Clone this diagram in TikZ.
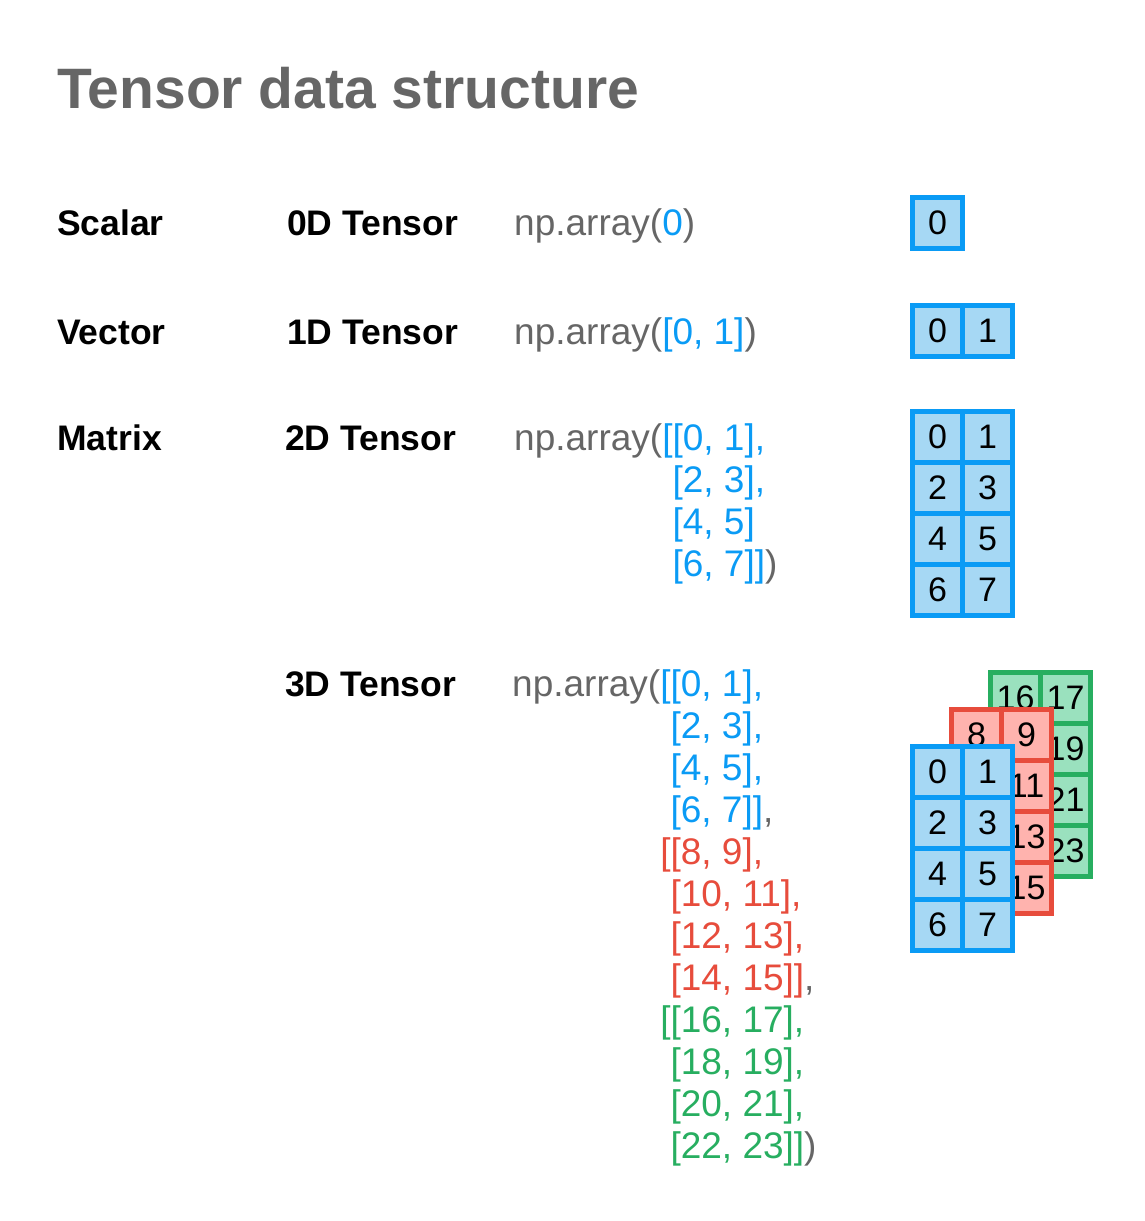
\documentclass[tikz,border=0pt]{standalone}
\usepackage{fontspec}
\setmainfont{Liberation Sans}
\usepackage{tikz}
\usetikzlibrary{positioning}
\usepackage{xcolor}
\definecolor{textgray}{HTML}{666666}
\definecolor{npblue}{HTML}{0A9BF5}
\definecolor{npred}{HTML}{E74C3C}
\definecolor{npgreen}{HTML}{27AE60}
\definecolor{bluefill}{HTML}{A6D8F4}
\definecolor{redfill}{HTML}{FFB3AE}
\definecolor{greenfill}{HTML}{9AE1BE}
\newcommand{\indentin}{\hphantom{np.array([}}
\newcommand{\indentout}{\hphantom{np.array(}}
\tikzset{
  heading/.style={anchor=base west, inner sep=0pt, text=textgray, font=\fontsize{57}{62}\selectfont\bfseries},
  rowlabel/.style={anchor=base west, inner sep=0pt, font=\fontsize{35.5}{42}\selectfont\bfseries},
  code/.style={anchor=base west, inner sep=0pt, text=textgray, font=\fontsize{37}{42}\selectfont},
  cell/.style={draw, line width=5pt, minimum width=50pt, minimum height=51pt, inner sep=0pt, outer sep=0pt, font=\fontsize{34}{40}\selectfont},
  bluecell/.style={cell, draw=npblue, fill=bluefill},
  redcell/.style={cell, draw=npred, fill=redfill},
  greencell/.style={cell, draw=npgreen, fill=greenfill}
}

\begin{document}
\begin{tikzpicture}[x=1pt, y=-1pt]
  \useasboundingbox (0,0) rectangle (1144,1221);

  \node[heading] (title) at (57,108) {Tensor data structure};

  % scalar
  \node[rowlabel] (scalar) at (57,235) {Scalar};
  \node[rowlabel] (tensor0) at (287,235) {0D Tensor};
  \node[code] (code0) at (514,235) {np.array(\textcolor{npblue}{0})};
  \node[bluecell] (s-0) at (937.5,223) {0};

  % vector
  \node[rowlabel] (vector) at (57,344) {Vector};
  \node[rowlabel] (tensor1) at (287,344) {1D Tensor};
  \node[code] (code1) at (514,344) {np.array(\textcolor{npblue}{[0, 1]})};
  \foreach \c in {0,1}
    \node[bluecell] (v-\c) at (937.5+50*\c,331) {\c};

  % matrix
  \node[rowlabel] (matrix) at (57,450) {Matrix};
  \node[rowlabel] (tensor2) at (285,450) {2D Tensor};
  \foreach \t [count=\k from 0] in {
      {np.array(\textcolor{npblue}{[[0, 1],}},
      {\indentin\textcolor{npblue}{[2, 3],}},
      {\indentin\textcolor{npblue}{[4, 5]}},
      {\indentin\textcolor{npblue}{[6, 7]]})}}
    \node[code] (code2-\k) at (514,450+42*\k) {\t};
  \foreach \r in {0,...,3}
    \foreach \c in {0,1}
      \node[bluecell] (m-\r-\c) at (937.5+50*\c,437+51*\r) {\the\numexpr2*\r+\c\relax};

  % 3d tensor
  \node[rowlabel] (tensor3) at (285,696) {3D Tensor};
  \foreach \t [count=\k from 0] in {
      {np.array(\textcolor{npblue}{[[0, 1],}},
      {\indentin\textcolor{npblue}{[2, 3],}},
      {\indentin\textcolor{npblue}{[4, 5],}},
      {\indentin\textcolor{npblue}{[6, 7]]},},
      {\indentout\textcolor{npred}{[[8, 9],}},
      {\indentin\textcolor{npred}{[10, 11],}},
      {\indentin\textcolor{npred}{[12, 13],}},
      {\indentin\textcolor{npred}{[14, 15]]},},
      {\indentout\textcolor{npgreen}{[[16, 17],}},
      {\indentin\textcolor{npgreen}{[18, 19],}},
      {\indentin\textcolor{npgreen}{[20, 21],}},
      {\indentin\textcolor{npgreen}{[22, 23]]})}}
    \node[code] (code3-\k) at (512,696+42*\k) {\t};
  % layers from back to front
  \foreach \l/\s in {2/greencell,1/redcell,0/bluecell}
    \foreach \r in {0,...,3}
      \foreach \c in {0,1}
        \node[\s] (t-\l-\r-\c) at (937.5+39*\l+50*\c,772-37*\l+51*\r) {\the\numexpr8*\l+2*\r+\c\relax};
\end{tikzpicture}
\end{document}
